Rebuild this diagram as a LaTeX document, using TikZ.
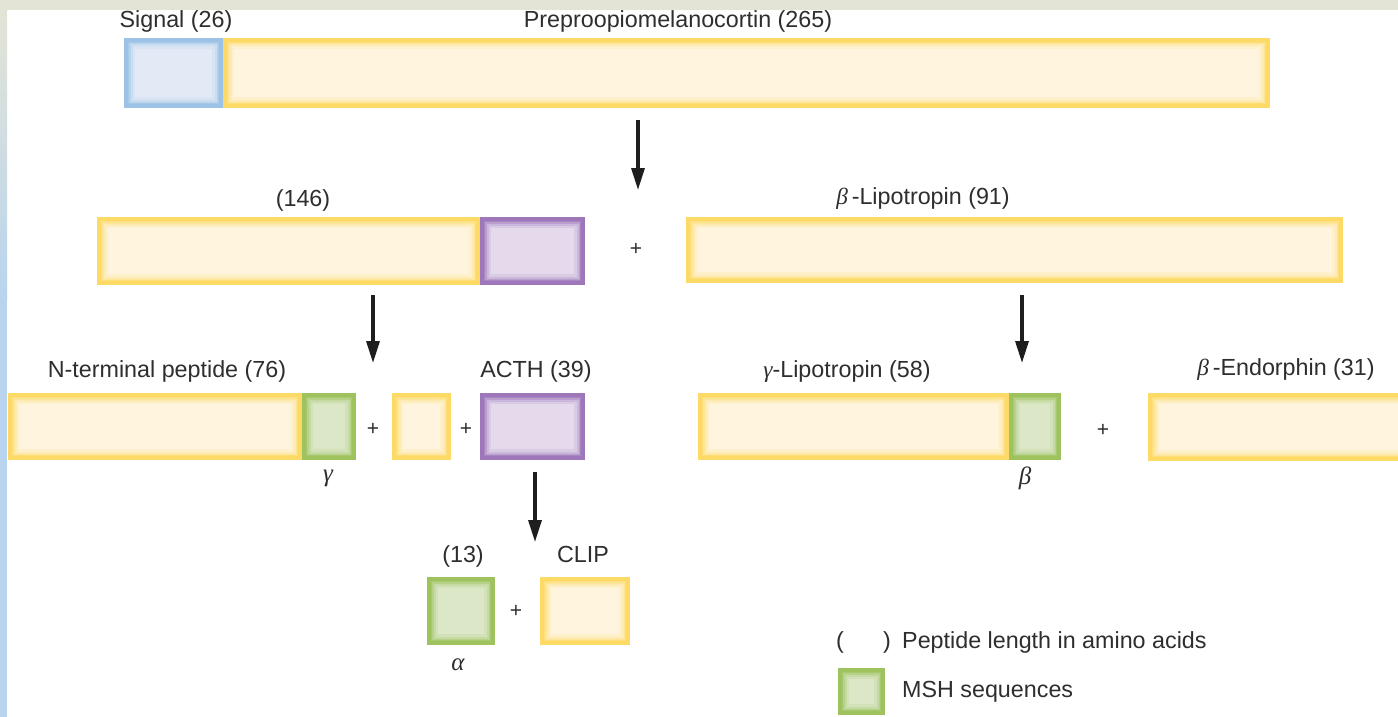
\documentclass[tikz,border=0pt]{standalone}
\usepackage{fontspec}
\setmainfont{Liberation Sans}
\newfontfamily\gkfont{Liberation Serif}
\usetikzlibrary{arrows.meta}
\definecolor{topgrey}{HTML}{E3E4D6}
\definecolor{leftblue}{HTML}{B8D4EE}
\definecolor{txt}{HTML}{2E2E2E}
\definecolor{arrc}{HTML}{1E1E1E}
\definecolor{ybord}{HTML}{FDDA66}
\definecolor{yfill}{HTML}{FFF4DE}
\definecolor{bbord}{HTML}{9CC3E6}
\definecolor{bfill}{HTML}{E3EAF5}
\definecolor{pbord}{HTML}{9E76BA}
\definecolor{pfill}{HTML}{E4DAEC}
\definecolor{gbord}{HTML}{9DC25E}
\definecolor{gfill}{HTML}{DCE7C8}
\newcommand\pbox[6]{\node[#6, minimum width={#4-#2-4}, minimum height={#5-#3-4}] (#1) at ({(#2+#4)/2},{(#3+#5)/2}) {};}
\begin{document}
\begin{tikzpicture}[x=1pt,y=-1pt,
  pbx/.style 2 args={rectangle, inner sep=0pt, draw=#1, fill=#2, line width=4pt,
    path picture={
      \draw[#1!15!#2, line width=18pt] (path picture bounding box.south west) rectangle (path picture bounding box.north east);
      \draw[#1!35!#2, line width=13pt] (path picture bounding box.south west) rectangle (path picture bounding box.north east);
      \draw[#1!60!#2, line width=9pt] (path picture bounding box.south west) rectangle (path picture bounding box.north east);
      \draw[#1!85!#2, line width=6pt] (path picture bounding box.south west) rectangle (path picture bounding box.north east);}},
  ybox/.style={pbx={ybord}{yfill}},
  bbox/.style={pbx={bbord}{bfill}},
  pubox/.style={pbx={pbord}{pfill}},
  gbox/.style={pbx={gbord}{gfill}},
  lbl/.style={text=txt, font=\fontsize{23.3}{28}\selectfont, inner sep=0pt, anchor=base},
  gk/.style={text=txt, font=\fontsize{25}{28}\selectfont\gkfont\itshape, inner sep=0pt, anchor=center},
  plus/.style={text=txt, font=\fontsize{21}{26}\selectfont, inner sep=0pt, anchor=center},
  arr/.style={draw=arrc, line width=3.2pt, -{Triangle[length=22pt,width=13pt]}}
]
\useasboundingbox (0,0) rectangle (1398,717);
\clip (0,0) rectangle (1398,717);
% background
\fill[white] (0,0) rectangle (1398,717);
\fill[topgrey] (0,0) rectangle (1398,10);
\shade[top color=topgrey, bottom color=leftblue] (0,10) rectangle (7,300);
\fill[leftblue] (0,299) rectangle (7,717);

% row 1
\pbox{pomc}{223}{38}{1270}{108}{ybox}
\pbox{sig}{124}{38}{223}{108}{bbox}
\node[lbl] (lsig) at (176,28) {Signal (26)};
\node[lbl] (lpomc) at (678,28) {Preproopiomelanocortin (265)};

% row 2
\pbox{n146}{97}{217}{480}{285}{ybox}
\pbox{actha}{480}{217}{585}{285}{pubox}
\pbox{blpt}{686}{217}{1343}{283}{ybox}
\node[lbl] (l146) at (303,206) {(146)};
\node[lbl] (lblpt) at (923,204) {{\gkfont\itshape β}\,-Lipotropin (91)};
\node[plus] (p1) at (636,249) {+};

% row 3
\pbox{nterm}{8}{393}{302}{460}{ybox}
\pbox{gmsh}{302}{393}{356}{460}{gbox}
\pbox{jp}{392}{393}{451}{460}{ybox}
\pbox{acth}{480}{393}{585}{460}{pubox}
\pbox{glpt}{698}{393}{1009}{460}{ybox}
\pbox{bmsh}{1009}{393}{1061}{460}{gbox}
\pbox{bend}{1148}{393}{1420}{461}{ybox}
\node[lbl] (lnterm) at (167,377) {N-terminal peptide (76)};
\node[lbl] (lacth) at (536,377) {ACTH (39)};
\node[lbl] (lglpt) at (847,377) {{\gkfont\itshape γ}-Lipotropin (58)};
\node[lbl] (lbend) at (1286,375) {{\gkfont\itshape β}\,-Endorphin (31)};
\node[gk] (lgam) at (328,478) {γ};
\node[gk] (lbet) at (1025,478) {β};
\node[plus] (p2) at (373,429) {+};
\node[plus] (p3) at (466,429) {+};
\node[plus] (p4) at (1103,430) {+};

% row 4
\pbox{amsh}{427}{577}{495}{645}{gbox}
\pbox{clip}{540}{577}{630}{645}{ybox}
\node[lbl] (l13) at (463,562) {(13)};
\node[lbl] (lclip) at (583,562) {CLIP};
\node[gk] (lalp) at (458,665) {α};
\node[plus] (p5) at (516,611) {+};

% legend
\pbox{leg}{838}{668}{885}{715}{gbox}
\node[lbl, anchor=base west] (lpo) at (836,648) {(};
\node[lbl, anchor=base west] (lpc) at (883,648) {)};
\node[lbl, anchor=base west] (lpl) at (902,648) {Peptide length in amino acids};
\node[lbl, anchor=base west] (lmsh) at (902,697) {MSH sequences};

% arrows
\coordinate (a1s) at (638,120); \coordinate (a1e) at (638,190);
\coordinate (a2s) at (373,295); \coordinate (a2e) at (373,363);
\coordinate (a3s) at (1022,295); \coordinate (a3e) at (1022,363);
\coordinate (a4s) at (535,472); \coordinate (a4e) at (535,542);
\draw[arr] (a1s) -- (a1e);
\draw[arr] (a2s) -- (a2e);
\draw[arr] (a3s) -- (a3e);
\draw[arr] (a4s) -- (a4e);
\end{tikzpicture}
\end{document}
